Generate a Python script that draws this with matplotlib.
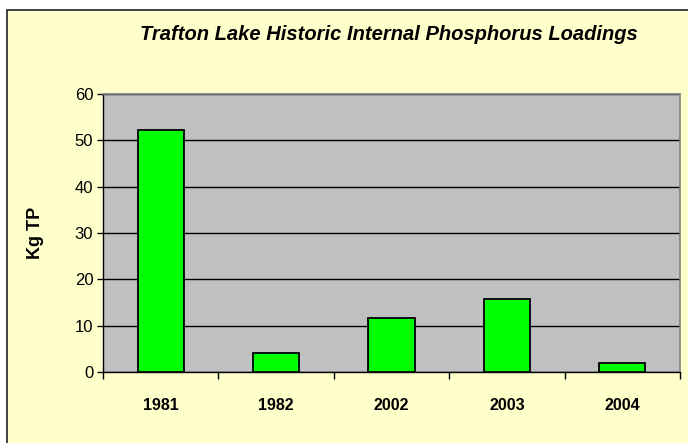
import matplotlib
matplotlib.use("Agg")
import matplotlib.pyplot as plt
from matplotlib.patches import Rectangle

years = ["1981", "1982", "2002", "2003", "2004"]
loads = [52.3, 4.1, 11.7, 15.8, 2.0]
yticks = [0, 10, 20, 30, 40, 50, 60]

plt.rcParams['font.family'] = ['Liberation Sans', 'DejaVu Sans']

W, H = 688, 443
fig = plt.figure(figsize=(W / 100, H / 100), dpi=100)
fig.patch.set_facecolor('white')

# chart area background with border
bgax = fig.add_axes([0, 0, 1, 1], zorder=-10)
bgax.set_xlim(0, W)
bgax.set_ylim(H, 0)
bgax.axis('off')
bgax.add_patch(Rectangle((7, 10), W, H, facecolor='#FFFFCC', edgecolor='#222222',
                         linewidth=1.2))

ax = fig.add_axes([103 / W, 1 - 372 / H, (680 - 103) / W, (372 - 94) / H])
ax.set_facecolor('#C0C0C0')
x = list(range(len(years)))
ax.bar(x, loads, width=0.4, color='#00FF00', edgecolor='black', linewidth=1.3, zorder=3)
ax.set_xlim(-0.5, len(years) - 0.5)
ax.set_ylim(0, 60)
ax.set_yticks(yticks)
ax.set_yticklabels([str(v) for v in yticks], fontsize=12)
ax.yaxis.grid(True, color='black', linewidth=1)
ax.set_axisbelow(True)
ax.set_xticks([i + 0.5 for i in range(-1, len(years))], minor=False)
ax.set_xticklabels([])
ax.set_xticks(x, minor=True)
ax.set_xticklabels(years, minor=True, fontsize=11.5, fontweight='bold')
ax.tick_params(axis='x', which='minor', length=0, pad=19)
ax.tick_params(axis='x', which='major', length=5, direction='out', width=1)
ax.tick_params(axis='y', length=4, direction='out', width=1, pad=3)
for s in ['top', 'right']:
    ax.spines[s].set_color('#808080')
    ax.spines[s].set_linewidth(1.2)
for s in ['left', 'bottom']:
    ax.spines[s].set_color('black')
    ax.spines[s].set_linewidth(1)
ax.set_ylabel('Kg TP', fontsize=13, fontweight='bold', labelpad=22)

fig.text(389 / W, 1 - 35 / H, 'Trafton Lake Historic Internal Phosphorus Loadings',
         ha='center', va='center', fontsize=14.5, fontweight='bold', style='italic')

fig.savefig('out.png', dpi=100, facecolor=fig.get_facecolor())
